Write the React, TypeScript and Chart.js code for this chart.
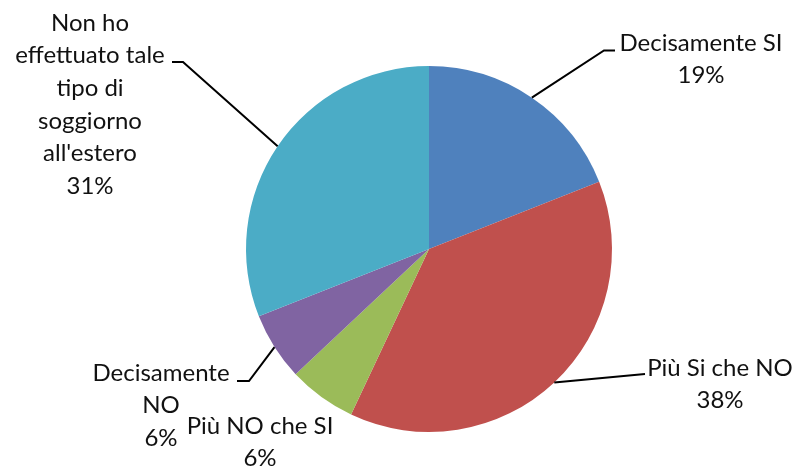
import React, { useEffect, useRef } from "react";
import { Chart, registerables } from "chart.js";

Chart.register(...registerables);

const categories = [
  "Decisamente SI",
  "Più Si che NO",
  "Più NO che SI",
  "Decisamente NO",
  "Non ho effettuato tale tipo di soggiorno all'estero",
];
const values = [19, 38, 6, 6, 31];
const labelLines = [
  ["Decisamente SI", "19%"],
  ["Più Si che NO", "38%"],
  ["Più NO che SI", "6%"],
  ["Decisamente", "NO", "6%"],
  ["Non ho", "effettuato tale", "tipo di", "soggiorno", "all'estero", "31%"],
];
const colors = ["#4F81BD", "#C0504D", "#9BBB59", "#8064A2", "#4BACC6"];

// label layout: text center x, first line center y, leader path (elbow points after arc anchor)
const labelLayout = [
  { cx: 701, y0: 42, leader: [[604, 50.5], [615, 50.5]] },
  { cx: 720, y0: 367, leader: [[645, 374]] },
  { cx: 260, y0: 425, leader: null },
  { cx: 161, y0: 372, leader: [[249, 381], [237, 381]] },
  { cx: 90, y0: 22, leader: [[183, 62], [172, 62]] },
];
const LINE_H = 32.6;

const labelPlugin = {
  id: "pieLabels",
  afterDraw(chart: any) {
    const ctx = chart.ctx;
    const meta = chart.getDatasetMeta(0);
    ctx.save();
    meta.data.forEach((arc: any, i: number) => {
      const { x, y, startAngle, endAngle, outerRadius } = arc.getProps(
        ["x", "y", "startAngle", "endAngle", "outerRadius"],
        true
      );
      const mid = (startAngle + endAngle) / 2;
      const ax = x + Math.cos(mid) * outerRadius;
      const ay = y + Math.sin(mid) * outerRadius;
      const lay = labelLayout[i];
      if (lay.leader) {
        ctx.beginPath();
        ctx.strokeStyle = "#000";
        ctx.lineWidth = 2;
        ctx.moveTo(ax, ay);
        lay.leader.forEach((p) => ctx.lineTo(p[0], p[1]));
        ctx.stroke();
      }
      ctx.fillStyle = "#111";
      ctx.font = "24px Lato";
      ctx.textAlign = "center";
      ctx.textBaseline = "middle";
      labelLines[i].forEach((t, k) => {
        ctx.fillText(t, lay.cx, lay.y0 + k * LINE_H + 1);
      });
    });
    ctx.restore();
  },
};

export default function App() {
  const ref = useRef<HTMLCanvasElement>(null);
  useEffect(() => {
    const chart = new Chart(ref.current!, {
      type: "pie",
      data: {
        labels: categories,
        datasets: [
          {
            data: values,
            backgroundColor: colors,
            borderWidth: 0,
          },
        ],
      },
      options: {
        responsive: false,
        animation: false,
        layout: { padding: { top: 66, bottom: 36, left: 246, right: 184 } },
        plugins: {
          legend: { display: false },
          tooltip: { enabled: false },
        },
      },
      plugins: [labelPlugin],
    });
    return () => chart.destroy();
  }, []);
  return (
    <div style={{ position: "fixed", left: 0, top: 0, width: 796, height: 468, background: "#fff" }}>
      <canvas ref={ref} width={796} height={468} />
    </div>
  );
}
